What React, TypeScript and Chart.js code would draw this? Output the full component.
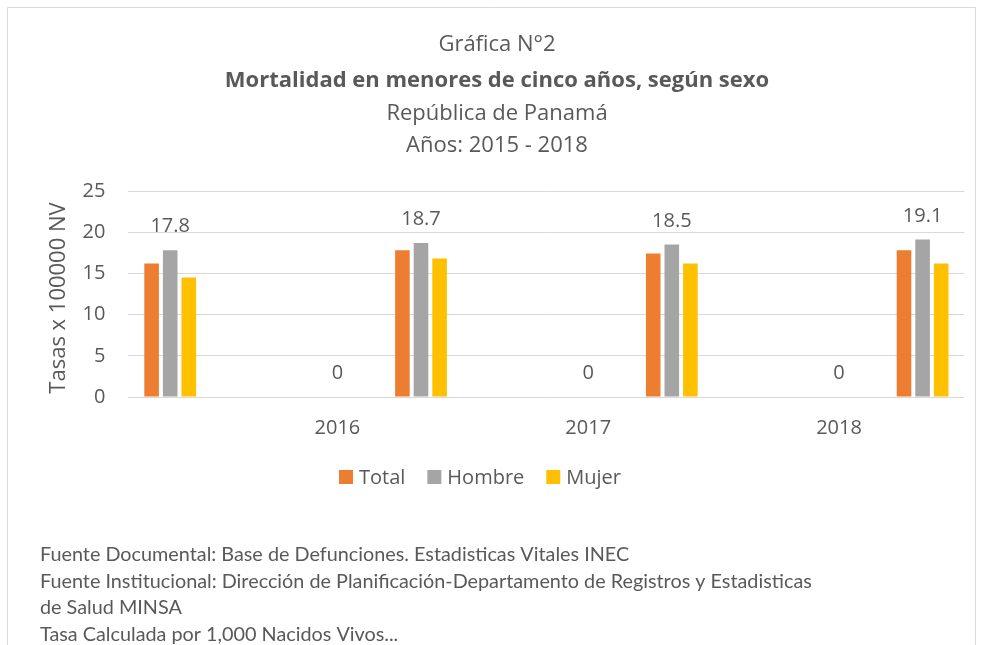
import React, { useEffect, useRef } from "react";
import { Chart, registerables } from "chart.js";

Chart.register(...registerables);

// ---------- data ----------
const categories = ["", "", "2016", "", "", "2017", "", "", "2018", ""];
const totalValues = [16.2, null, null, 17.8, null, null, 17.4, null, null, 17.8];
const hombreValues = [17.8, null, 0, 18.7, null, 0, 18.5, null, 0, 19.1];
const mujerValues = [14.5, null, null, 16.8, null, null, 16.2, null, null, 16.2];
const seriesNames = ["Total", "Hombre", "Mujer"];
const seriesColors = ["#ED7D31", "#A5A5A5", "#FFC000"];
const yTicks = [0, 5, 10, 15, 20, 25];
const yTitle = "Tasas x 100000 NV";
const titleLines = [
  "Gráfica N°2",
  "Mortalidad en menores de cinco años, según sexo",
  "República de Panamá",
  "Años: 2015 - 2018",
];
const footerLines = [
  "Fuente Documental: Base de Defunciones. Estadisticas Vitales INEC",
  "Fuente Institucional: Dirección de Planificación-Departamento de Registros y Estadisticas",
  "de Salud MINSA",
  "Tasa Calculada por 1,000 Nacidos Vivos...",
];

const FONT = "'Open Sans', sans-serif";
const FOOT_FONT = "Lato, 'Open Sans', sans-serif";
const TEXT = "#595959";
const GRID = "#D9D9D9";

export default function App() {
  const ref = useRef<HTMLCanvasElement | null>(null);

  useEffect(() => {
    const canvas = ref.current;
    if (!canvas) return;

    const overlay = {
      id: "overlay",
      beforeDraw(chart: any) {
        const ctx = chart.ctx;
        ctx.save();
        ctx.fillStyle = "#ffffff";
        ctx.fillRect(0, 0, chart.width, chart.height);
        ctx.restore();
      },
      afterDatasetsDraw(chart: any) {
        const ctx = chart.ctx;
        const meta = chart.getDatasetMeta(1);
        ctx.save();
        ctx.font = `20px ${FONT}`;
        ctx.fillStyle = TEXT;
        ctx.textAlign = "center";
        ctx.textBaseline = "alphabetic";
        meta.data.forEach((bar: any, i: number) => {
          const v = hombreValues[i];
          if (v === null || v === undefined) return;
          ctx.fillText(String(v), bar.x, bar.y - 25 + 7);
        });
        ctx.restore();
      },
      afterDraw(chart: any) {
        const ctx = chart.ctx;
        ctx.save();
        // frame
        ctx.strokeStyle = GRID;
        ctx.lineWidth = 1;
        ctx.beginPath();
        ctx.moveTo(7.5, 645);
        ctx.lineTo(7.5, 7.5);
        ctx.lineTo(975.5, 7.5);
        ctx.lineTo(975.5, 645);
        ctx.stroke();

        // titles
        ctx.fillStyle = TEXT;
        ctx.textAlign = "center";
        ctx.textBaseline = "alphabetic";
        const titleY = [43, 79, 112, 144];
        titleLines.forEach((t, i) => {
          ctx.font = `${i === 1 ? "bold " : ""}22px ${FONT}`;
          ctx.fillText(t, 497, titleY[i] + 8);
        });

        // y axis title
        ctx.save();
        ctx.translate(65, 298);
        ctx.rotate(-Math.PI / 2);
        ctx.font = `22px ${FONT}`;
        ctx.textAlign = "center";
        ctx.fillText(yTitle, 0, 0);
        ctx.restore();

        // legend
        ctx.font = `20px ${FONT}`;
        const box = 14;
        const gapBoxText = 6;
        const gapItems = 22;
        const widths = seriesNames.map((n) => ctx.measureText(n).width);
        let total = 0;
        widths.forEach((w, i) => {
          total += box + gapBoxText + w + (i < widths.length - 1 ? gapItems : 0);
        });
        let x = 480 - total / 2;
        const ly = 477;
        ctx.textAlign = "left";
        seriesNames.forEach((n, i) => {
          ctx.fillStyle = seriesColors[i];
          ctx.fillRect(x, ly - box / 2, box, box);
          ctx.fillStyle = TEXT;
          ctx.fillText(n, x + box + gapBoxText, ly + 7);
          x += box + gapBoxText + widths[i] + gapItems;
        });

        // footer
        ctx.font = `20px ${FOOT_FONT}`;
        const w2 = ctx.measureText(footerLines[1]).width;
        const fs = (20 * 772) / w2;
        ctx.font = `${fs}px ${FOOT_FONT}`;
        const footY = [554, 581, 607, 634];
        footerLines.forEach((t, i) => {
          ctx.fillText(t, 40, footY[i] + fs * 0.36);
        });
        ctx.restore();
      },
    };

    const chart = new Chart(canvas, {
      type: "bar",
      data: {
        labels: categories,
        datasets: [
          { label: seriesNames[0], data: totalValues, backgroundColor: seriesColors[0] },
          { label: seriesNames[1], data: hombreValues, backgroundColor: seriesColors[1] },
          { label: seriesNames[2], data: mujerValues, backgroundColor: seriesColors[2] },
        ].map((d) => ({ ...d, categoryPercentage: 0.667, barPercentage: 0.785, borderWidth: 0 })),
      },
      options: {
        responsive: false,
        animation: false,
        devicePixelRatio: 1,
        layout: { padding: { left: 0, top: 191, right: 17.6, bottom: 208 } },
        plugins: {
          legend: { display: false },
          title: { display: false },
          tooltip: { enabled: false },
        },
        scales: {
          x: {
            grid: { display: false, drawTicks: false },
            border: { display: false },
            ticks: {
              color: TEXT,
              font: { family: FONT, size: 20 },
              padding: 19,
              autoSkip: false,
              maxRotation: 0,
            },
            afterFit(s: any) {
              s.height = 40;
            },
          },
          y: {
            min: 0,
            max: 25,
            afterBuildTicks(s: any) {
              s.ticks = yTicks.map((v) => ({ value: v }));
            },
            ticks: {
              color: TEXT,
              font: { family: FONT, size: 20 },
              padding: 23,
            },
            grid: { color: GRID, drawTicks: false, lineWidth: 1 },
            border: { display: false },
            afterFit(s: any) {
              s.width = 128.4;
            },
          },
        },
      },
      plugins: [overlay],
    } as any);

    return () => chart.destroy();
  }, []);

  return (
    <div style={{ position: "fixed", left: 0, top: 0, width: 982, height: 645, background: "#fff" }}>
      <canvas ref={ref} width={982} height={645} style={{ display: "block" }} />
    </div>
  );
}
